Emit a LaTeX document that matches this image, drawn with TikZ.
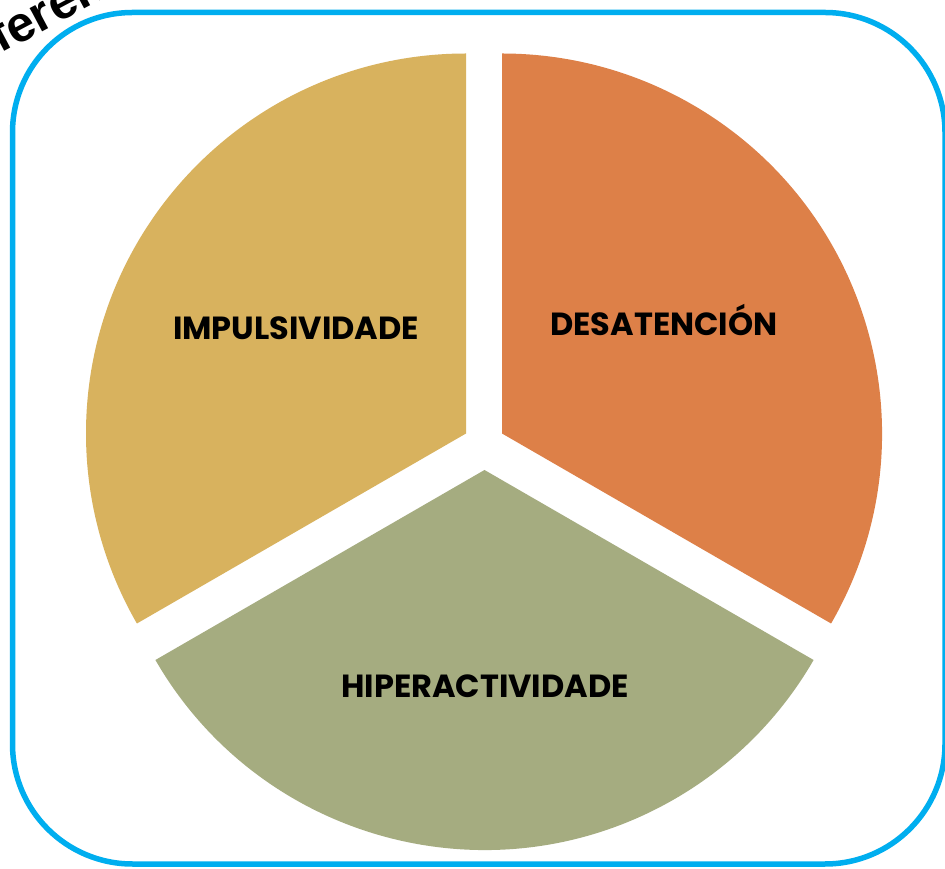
\documentclass[tikz,border=0pt]{standalone}
\usepackage{fontspec}
\setmainfont{Poppins}
\newfontfamily\wmfont{Liberation Sans}
\definecolor{cyellow}{HTML}{D8B25E}
\definecolor{corange}{HTML}{DD8048}
\definecolor{cgreen}{HTML}{A5AC80}
\definecolor{cblue}{HTML}{00AEEF}
\tikzset{
  lbl/.style={font=\fontsize{32}{36}\selectfont\bfseries, text=black, inner sep=0pt},
  frame/.style={draw=cblue, line width=5.5pt, rounded corners=120pt},
}
\begin{document}
\begin{tikzpicture}[x=1pt,y=1pt]
\useasboundingbox (0,0) rectangle (945,868);
\clip (0,0) rectangle (945,868);
\fill[white] (0,0) rectangle (945,868);
% watermark text
\node[anchor=base west, rotate=28, inner sep=0pt, font=\wmfont\fontsize{50}{54}\selectfont\bfseries] (wm) at (-56,784) {Referencia};
% frame
\draw[frame] (12.5,4) rectangle (945,855.5);
% wedges
\fill[cyellow] (466,434.5) coordinate (ay) -- ++(90:380) arc[start angle=90,end angle=210,radius=380] -- cycle;
\fill[corange] (502,434.5) coordinate (ao) -- ++(-30:380) arc[start angle=-30,end angle=90,radius=380] -- cycle;
\fill[cgreen] (484.5,398) coordinate (ag) -- ++(210:380) arc[start angle=210,end angle=330,radius=380] -- cycle;
% labels
\node[lbl] (imp) at (296,540) {IMPULSIVIDADE};
\node[lbl] (des) at (664,548) {DESATENCIÓN};
\node[lbl] (hip) at (485,182) {HIPERACTIVIDADE};
\end{tikzpicture}
\end{document}
